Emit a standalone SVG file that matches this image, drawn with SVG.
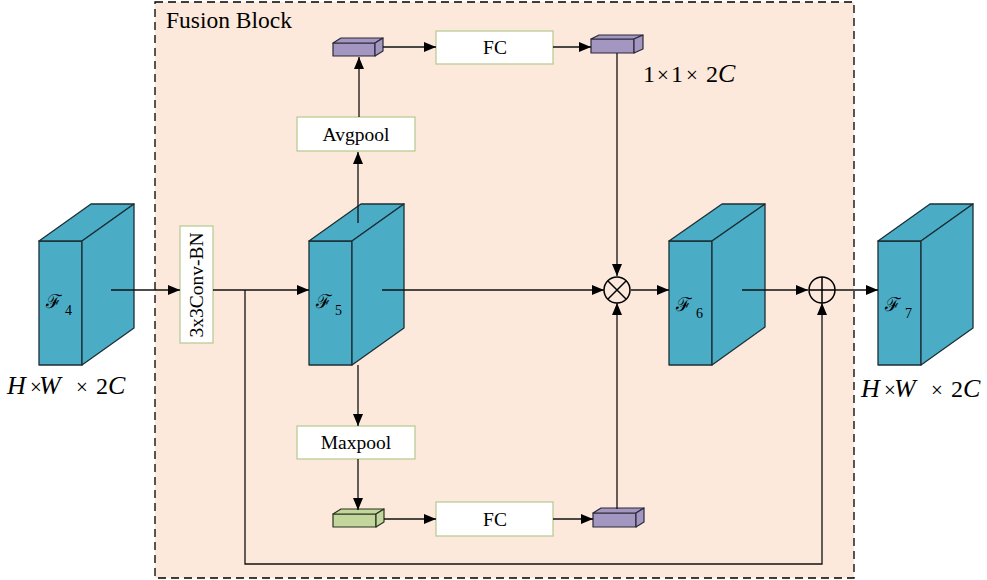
<svg xmlns="http://www.w3.org/2000/svg" width="987" height="580" viewBox="0 0 987 580">
<defs>
<marker id="ah" markerWidth="12" markerHeight="10" refX="12" refY="5" orient="auto" markerUnits="userSpaceOnUse">
<path d="M0,0 L12,5 L0,10 Z" fill="#000"/>
</marker>
<style>
.cube{fill:#4bacc6;stroke:#1c2f36;stroke-width:1.3;stroke-linejoin:round}
.pc{fill:#a397c1;stroke:#2a2a3a;stroke-width:1.2;stroke-linejoin:round}
.gc{fill:#c3d69b;stroke:#2a3322;stroke-width:1.2;stroke-linejoin:round}
.box{fill:#fff;stroke:#b9cd96;stroke-width:1.3}
.ln{fill:none;stroke:#111;stroke-width:1.3}
.bt{font-family:"Liberation Serif","Times New Roman",serif;font-size:19.5px;fill:#000}
.fl{font-family:"DejaVu Serif","Liberation Serif",serif;font-size:19px;fill:#000}
.sub{font-family:"Liberation Serif",serif;font-size:14px;fill:#000}
.dim{font-family:"Liberation Serif","Times New Roman",serif;font-size:24px;fill:#000}
.it{font-style:italic;font-size:26px}
.x{font-size:21px;letter-spacing:-3px}
</style>
</defs>
<rect width="987" height="580" fill="#fff"/>
<g id="fusion-block">
<rect x="155" y="2" width="699" height="576" fill="#fce9db" stroke="#000" stroke-width="1.3" stroke-dasharray="8,5"/>
<text x="166" y="28" font-family="Liberation Serif,serif" font-size="23.5" fill="#000">Fusion Block</text>
</g>
<g id="F4">
<rect class="cube" x="39" y="241" width="43" height="124"/>
<polygon class="cube" points="39,241 91,204 134,204 82,241"/>
<polygon class="cube" points="82,241 134,204 134,328 82,365"/>
<text class="fl" x="46" y="308">ℱ</text><text class="sub" x="65" y="315">4</text>
<text class="dim"><tspan class="it" x="7" y="394">H</tspan><tspan class="x" x="30" y="394">×</tspan><tspan class="it" x="39" y="394">W</tspan><tspan class="x" x="76" y="394">×</tspan><tspan x="96" y="394">2</tspan><tspan class="it" x="108" y="394">C</tspan></text>
</g>
<g id="conv">
<rect class="box" x="180" y="226" width="33" height="117"/>
<text class="bt" font-size="17.5" transform="translate(202.5,285) rotate(-90)" text-anchor="middle">3x3Conv-BN</text>
</g>
<g id="F5">
<rect class="cube" x="309" y="241" width="43" height="124"/>
<polygon class="cube" points="309,241 361,204 404,204 352,241"/>
<polygon class="cube" points="352,241 404,204 404,328 352,365"/>
<text class="fl" x="316" y="308">ℱ</text><text class="sub" x="335" y="315">5</text>
</g>
<g id="avgpool">
<rect class="box" x="297" y="117" width="118" height="34"/>
<text class="bt" x="356" y="141" text-anchor="middle">Avgpool</text>
</g>
<g id="pool-avg-vec">
<rect class="pc" x="333" y="43" width="42" height="13"/>
<polygon class="pc" points="333,43 341,38 383,38 375,43"/>
<polygon class="pc" points="375,43 383,38 383,51 375,56"/>
</g>
<g id="fc1">
<rect class="box" x="436" y="31" width="117" height="33"/>
<text class="bt" x="495" y="54" text-anchor="middle">FC</text>
</g>
<g id="att-vec1">
<rect class="pc" x="591" y="39" width="43" height="14"/>
<polygon class="pc" points="591,39 599,35 643,35 634,39"/>
<polygon class="pc" points="634,39 643,35 643,49 634,53"/>
<text class="dim"><tspan x="643" y="82">1</tspan><tspan class="x" x="657" y="82">×</tspan><tspan x="671" y="82">1</tspan><tspan class="x" x="686" y="82">×</tspan><tspan x="706" y="82">2</tspan><tspan class="it" x="718" y="82">C</tspan></text>
</g>
<g id="maxpool">
<rect class="box" x="297" y="426" width="118" height="33"/>
<text class="bt" x="356" y="449" text-anchor="middle">Maxpool</text>
</g>
<g id="pool-max-vec">
<rect class="gc" x="333" y="514" width="43" height="13"/>
<polygon class="gc" points="333,514 341,509 384,509 376,514"/>
<polygon class="gc" points="376,514 384,509 384,522 376,527"/>
</g>
<g id="fc2">
<rect class="box" x="436" y="502" width="117" height="34"/>
<text class="bt" x="495" y="526" text-anchor="middle">FC</text>
</g>
<g id="att-vec2">
<rect class="pc" x="593" y="513" width="43" height="14"/>
<polygon class="pc" points="593,513 601,508 644,508 636,513"/>
<polygon class="pc" points="636,513 644,508 644,522 636,527"/>
</g>
<g id="mul">
<circle cx="617" cy="290" r="13" fill="#fce9db" stroke="#000" stroke-width="1.5"/>
<path d="M608,281 L626,299 M626,281 L608,299" stroke="#000" stroke-width="1.5"/>
</g>
<g id="F6">
<rect class="cube" x="669" y="241" width="43" height="124"/>
<polygon class="cube" points="669,241 722,204 765,204 712,241"/>
<polygon class="cube" points="712,241 765,204 765,327 712,365"/>
<text class="fl" x="676" y="311">ℱ</text><text class="sub" x="696" y="318">6</text>
</g>
<g id="add">
<circle cx="822" cy="290" r="13" fill="#fce9db" stroke="#000" stroke-width="1.5"/>
<path d="M809,290 H835 M822,277 V303" stroke="#000" stroke-width="1.5"/>
</g>
<g id="F7">
<rect class="cube" x="878" y="241" width="43" height="124"/>
<polygon class="cube" points="878,241 930,204 973,204 921,241"/>
<polygon class="cube" points="921,241 973,204 973,328 921,365"/>
<text class="fl" x="885" y="311">ℱ</text><text class="sub" x="905" y="318">7</text>
<text class="dim"><tspan class="it" x="861" y="397">H</tspan><tspan class="x" x="884" y="397">×</tspan><tspan class="it" x="894" y="397">W</tspan><tspan class="x" x="931" y="397">×</tspan><tspan x="951" y="397">2</tspan><tspan class="it" x="963" y="397">C</tspan></text>
</g>
<g id="connectors">
<path class="ln" d="M111,290 H180" marker-end="url(#ah)"/>
<path class="ln" d="M213,290 H309" marker-end="url(#ah)"/>
<path class="ln" d="M245,290 V564 H822 V303" marker-end="url(#ah)"/>
<path class="ln" d="M382,290 H604" marker-end="url(#ah)"/>
<path class="ln" d="M358,223 V152" marker-end="url(#ah)"/>
<path class="ln" d="M359,117 V57" marker-end="url(#ah)"/>
<path class="ln" d="M383,47 H436" marker-end="url(#ah)"/>
<path class="ln" d="M553,47 H591" marker-end="url(#ah)"/>
<path class="ln" d="M617,53 V276" marker-end="url(#ah)"/>
<path class="ln" d="M358,365 V426" marker-end="url(#ah)"/>
<path class="ln" d="M358,459 V510" marker-end="url(#ah)"/>
<path class="ln" d="M384,519 H436" marker-end="url(#ah)"/>
<path class="ln" d="M553,519 H593" marker-end="url(#ah)"/>
<path class="ln" d="M617,509 V303" marker-end="url(#ah)"/>
<path class="ln" d="M631,290 H669" marker-end="url(#ah)"/>
<path class="ln" d="M742,290 H808" marker-end="url(#ah)"/>
<path class="ln" d="M835,290 H878" marker-end="url(#ah)"/>
</g>
</svg>
